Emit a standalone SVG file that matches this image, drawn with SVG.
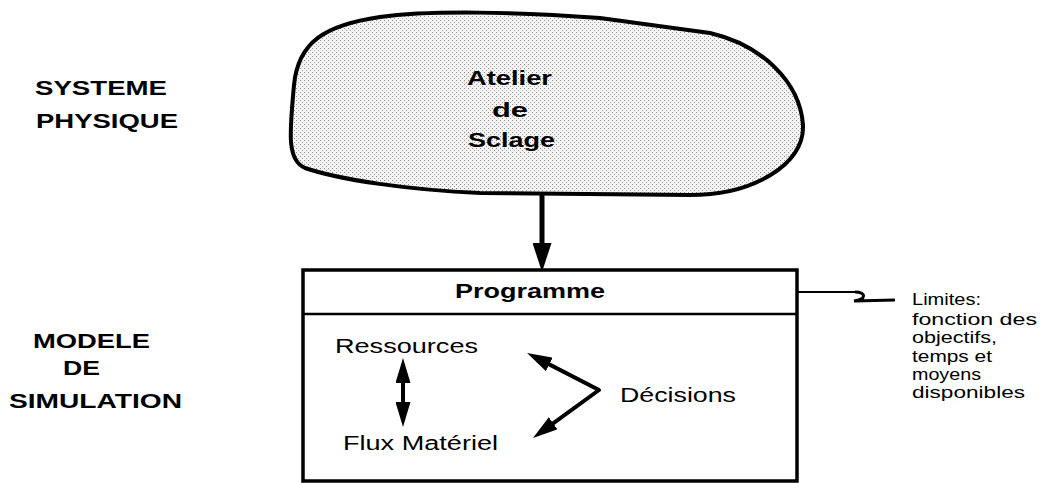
<svg xmlns="http://www.w3.org/2000/svg" width="1049" height="483" viewBox="0 0 1049 483">
  <defs>
    <pattern id="stipple" width="4" height="4" patternUnits="userSpaceOnUse">
      <rect width="4" height="4" fill="#f4f4f4"/>
      <rect x="0" y="0" width="1" height="1" fill="#8a8a8a"/>
      <rect x="2" y="2" width="1" height="1" fill="#a0a0a0"/>
    </pattern>
    <marker id="headBig" viewBox="0 0 29 19" markerUnits="userSpaceOnUse" markerWidth="29" markerHeight="19" refX="15" refY="9.5" orient="auto">
      <path d="M0,0 L29,9.5 L0,19 Z" fill="#000"/>
    </marker>
    <marker id="headSmall" viewBox="0 0 25 15" markerUnits="userSpaceOnUse" markerWidth="25" markerHeight="15" refX="12" refY="7.5" orient="auto-start-reverse">
      <path d="M0,0 L25,7.5 L0,15 Z" fill="#000"/>
    </marker>
  </defs>
  <style>
    text { font-family: "Liberation Sans", Arial, sans-serif; fill: #000; }
    .title { font-weight: bold; font-size: 20px; }
    .bold { font-weight: bold; font-size: 21px; }
    .reg { font-size: 20px; }
    .note { font-size: 17px; }
    .line { fill: none; stroke: #000; }
  </style>
  <rect width="1049" height="483" fill="#fff"/>

  <g id="label-systeme">
    <text class="title" x="35" y="95" textLength="132" lengthAdjust="spacingAndGlyphs">SYSTEME</text>
    <text class="title" x="36" y="128" textLength="142" lengthAdjust="spacingAndGlyphs">PHYSIQUE</text>
  </g>
  <g id="label-modele">
    <text class="title" x="33" y="348" textLength="117" lengthAdjust="spacingAndGlyphs">MODELE</text>
    <text class="title" x="63" y="375" textLength="37" lengthAdjust="spacingAndGlyphs">DE</text>
    <text class="title" x="9" y="408" textLength="173" lengthAdjust="spacingAndGlyphs">SIMULATION</text>
  </g>

  <g id="atelier">
    <path d="M 294,85 C 298,42 325,25 380,17 C 430,10 520,12 600,18 L 710,33 C 762,45 800,82 803,125 C 805,165 752,195 690,195 L 480,193 C 410,190 340,180 305,168 C 286,160 290,130 294,85 Z" fill="url(#stipple)" stroke="#000" stroke-width="4"/>
    <text class="bold" x="467" y="85" textLength="85" lengthAdjust="spacingAndGlyphs">Atelier</text>
    <text class="bold" x="492" y="117" textLength="36" lengthAdjust="spacingAndGlyphs">de</text>
    <text class="bold" x="468" y="147" textLength="87" lengthAdjust="spacingAndGlyphs">Sclage</text>
  </g>

  <g id="programme">
    <rect x="303" y="270" width="494" height="211" fill="none" stroke="#000" stroke-width="3.5"/>
    <line x1="303" y1="314" x2="797" y2="314" stroke="#000" stroke-width="2.5"/>
    <text class="bold" x="455" y="298" textLength="150" lengthAdjust="spacingAndGlyphs">Programme</text>
    <text class="reg" x="335" y="353" textLength="143" lengthAdjust="spacingAndGlyphs">Ressources</text>
    <text class="reg" x="343" y="450" textLength="155" lengthAdjust="spacingAndGlyphs">Flux Matériel</text>
    <text class="reg" x="620" y="402" textLength="116" lengthAdjust="spacingAndGlyphs">Décisions</text>
  </g>

  <g id="limites">
    <text class="note" x="912" y="305" textLength="69" lengthAdjust="spacingAndGlyphs">Limites:</text>
    <text class="note" x="912" y="325" textLength="125" lengthAdjust="spacingAndGlyphs">fonction des</text>
    <text class="note" x="912" y="343" textLength="85" lengthAdjust="spacingAndGlyphs">objectifs,</text>
    <text class="note" x="912" y="362" textLength="80" lengthAdjust="spacingAndGlyphs">temps et</text>
    <text class="note" x="912" y="380" textLength="69" lengthAdjust="spacingAndGlyphs">moyens</text>
    <text class="note" x="912" y="398" textLength="113" lengthAdjust="spacingAndGlyphs">disponibles</text>
  </g>

  <g id="connectors">
    <line class="line" x1="542" y1="195" x2="542" y2="258" stroke-width="5" marker-end="url(#headBig)"/>
    <path class="line" d="M 403,371 L 403,414" stroke-width="4" marker-start="url(#headSmall)" marker-end="url(#headSmall)"/>
    <path class="line" d="M 538.6,358.9 L 599,390 L 543.5,430.4" stroke-width="4" stroke-linejoin="round" marker-start="url(#headSmall)" marker-end="url(#headSmall)"/>
    <path class="line" d="M 798,292 L 856,292" stroke-width="2"/>
    <path class="line" d="M 855,292 C 867,292 866,300 854,301 L 895,300" stroke-width="3"/>
  </g>
</svg>
